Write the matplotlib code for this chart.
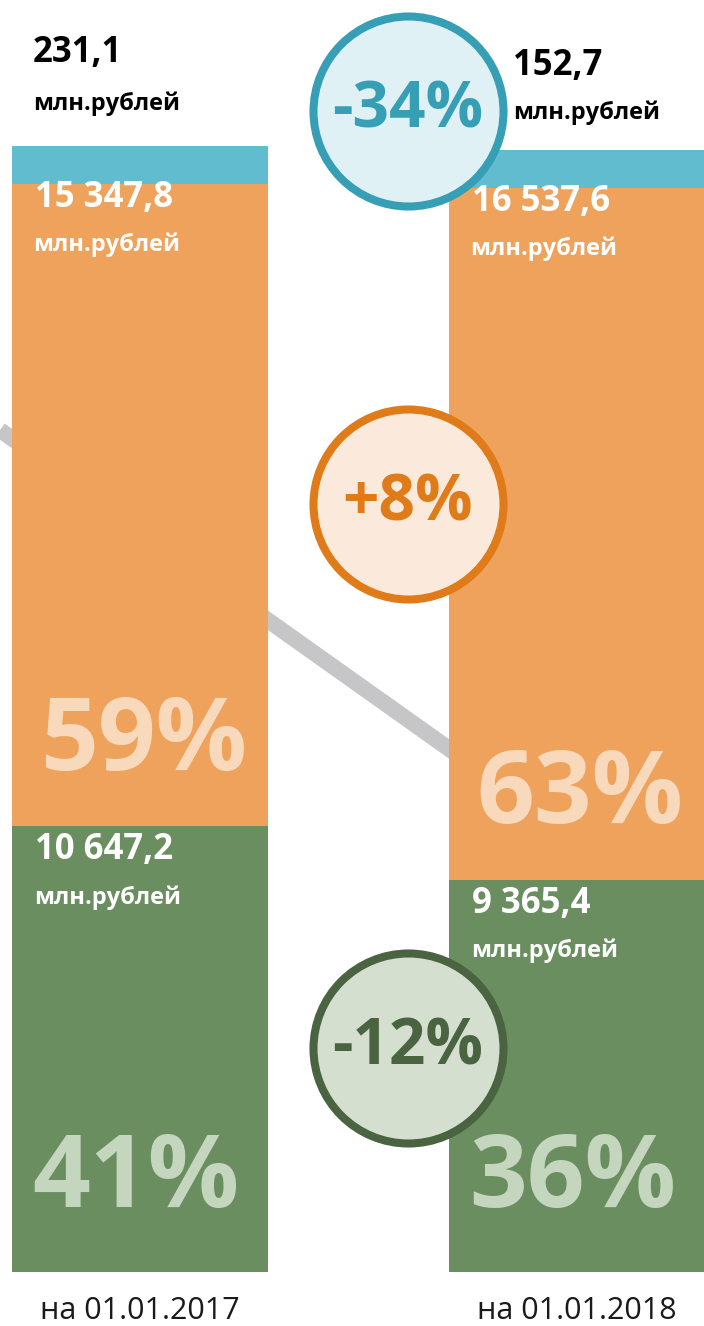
import numpy as np
import matplotlib.pyplot as plt

plt.rcParams["font.family"] = ["Open Sans", "DejaVu Sans"]

# Data (млн.рублей)
dates = ["на 01.01.2017", "на 01.01.2018"]
green_vals = [10647.2, 9365.4]
orange_vals = [15347.8, 16537.6]
blue_vals = [231.1, 152.7]
green_share = ["41%", "36%"]
orange_share = ["59%", "63%"]
changes = ["-12%", "+8%", "-34%"]
unit = "млн.рублей"

# colours
c_green, c_orange, c_blue = "#6a8e5f", "#eea25c", "#62bcd0"
c_green_txt, c_orange_txt = "#c5d6bf", "#f8d9bb"
circle_styles = {
    "-12%": ("#d5dfd0", "#4a6340"),
    "+8%": ("#fbeadc", "#e07b1a"),
    "-34%": ("#e0f1f5", "#369fb5"),
}

# the thin top segment is drawn with a minimum visible thickness
min_visible = 900


def fmt(v):
    s = f"{v:,.1f}".replace(",", " ").replace(".", ",")
    return s


x = np.array([0, 1])
width = 0.586
green = np.array(green_vals)
orange = np.array(orange_vals)
blue_draw = np.maximum(np.array(blue_vals), min_visible)

fig = plt.figure(figsize=(7.04, 13.26), dpi=100)
ax = fig.add_axes([0, 0, 1, 1])
ax.set_xlim(-0.320, 1.291)
ax.set_ylim(-1290, 30394)
ax.axis("off")

# decorative grey connector behind the bars
ax.plot([0, 0.85], [0.6757, 0.6757 - 0.85 * 0.377], transform=ax.transAxes,
        color="#c6c5c7", lw=11.5, zorder=0, solid_capstyle="butt")

ax.bar(x, green, width, color=c_green, zorder=2)
ax.bar(x, orange, width, bottom=green, color=c_orange, zorder=2)
ax.bar(x, blue_draw, width, bottom=green + orange, color=c_blue, zorder=2)

num_size = 25
unit_size = 17
left = x - width / 2
for i in range(2):
    g_top = green[i]
    o_top = green[i] + orange[i]
    b_top = o_top + blue_draw[i]

    # values on segments
    ax.annotate(fmt(orange[i]), (left[i], o_top), xytext=(16.5, -10), textcoords="offset points",
                color="white", fontsize=num_size, fontweight="bold", va="center", ha="left", zorder=4)
    ax.annotate(unit, (left[i], o_top), xytext=(15, -44), textcoords="offset points",
                color="white", fontsize=unit_size, fontweight="bold", va="center", ha="left", zorder=4)
    ax.annotate(fmt(green[i]), (left[i], g_top), xytext=(17, -17), textcoords="offset points",
                color="white", fontsize=num_size, fontweight="bold", va="center", ha="left", zorder=4)
    ax.annotate(unit, (left[i], g_top), xytext=(16, -51), textcoords="offset points",
                color="white", fontsize=unit_size, fontweight="bold", va="center", ha="left", zorder=4)

    # large shares
    ax.annotate(orange_share[i], (left[i], green[i]), xytext=(20, 60), textcoords="offset points",
                color=c_orange_txt, fontsize=73, fontweight="bold", va="center", ha="left", zorder=3)
    ax.annotate(green_share[i], (left[i], 0), xytext=(15, 66), textcoords="offset points",
                color=c_green_txt, fontsize=73, fontweight="bold", va="center", ha="left", zorder=3)

    # blue value above the bar
    dx = 15 if i == 0 else 46
    ax.annotate(fmt(blue_vals[i]), (left[i], b_top), xytext=(dx, 67 if i == 0 else 61),
                textcoords="offset points", color="black", fontsize=num_size, fontweight="bold",
                va="center", ha="left", zorder=4)
    ax.annotate(unit, (left[i], b_top), xytext=(dx, 31 if i == 0 else 27),
                textcoords="offset points", color="black", fontsize=unit_size, fontweight="bold",
                va="center", ha="left", zorder=4)

    # date labels
    ax.annotate(dates[i], (x[i], 0), xytext=(0, -28), textcoords="offset points",
                color="#1a1a1a", fontsize=22, va="center", ha="center")

# change circles between the bars
cx = 0.613
circle_y = [
    (1272 - 1048) / 0.04185,
    (1272 - 504) / 0.04185,
    (1272 - 111) / 0.04185,
]
for label, cy in zip(changes, circle_y):
    face, edge = circle_styles[label]
    ax.scatter([cx], [cy], s=136.8 ** 2, facecolor=face, edgecolor=edge, linewidths=5.8, zorder=5)
    ax.text(cx, cy, label, color=edge, fontsize=46, fontweight="bold",
            ha="center", va="center", zorder=6)

fig.savefig("out.png", dpi=100)
